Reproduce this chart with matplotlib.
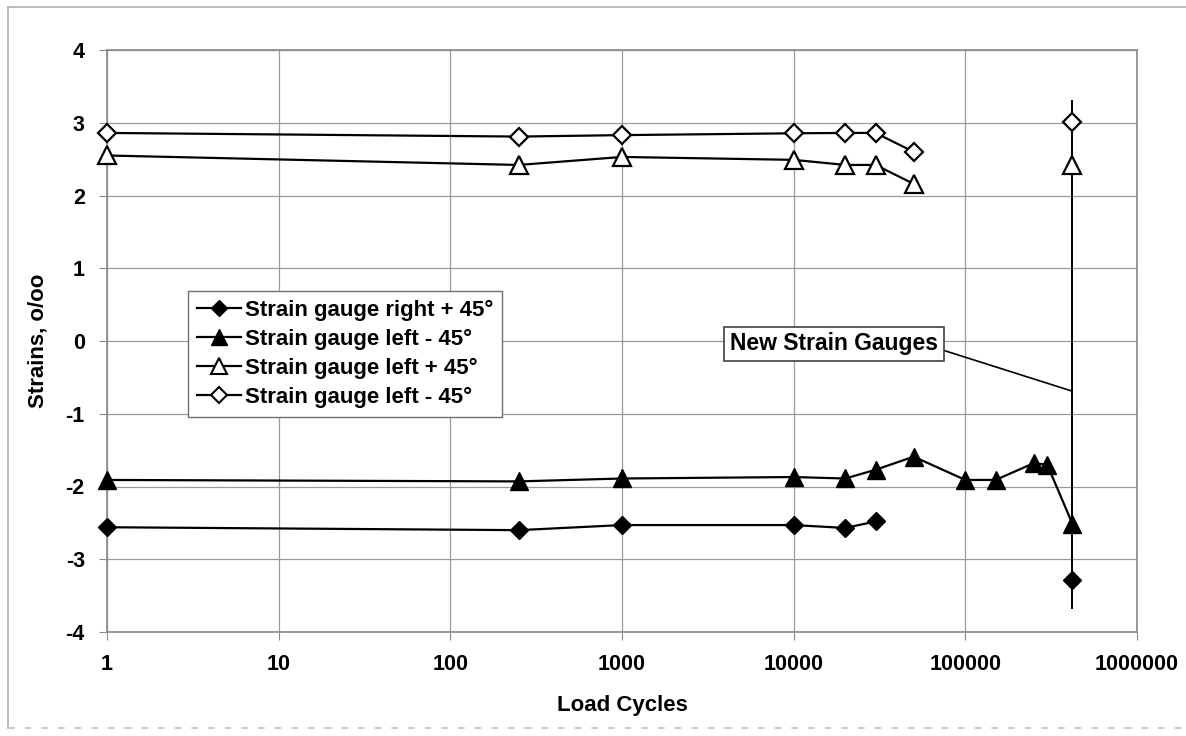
import matplotlib.pyplot as plt
from matplotlib.ticker import FixedLocator, FixedFormatter, NullLocator
from matplotlib.lines import Line2D

plt.rcParams['font.family'] = ['Liberation Sans', 'DejaVu Sans']

# load cycles for each gauge
cycles_right_p45 = [1, 250, 1000, 10000, 20000, 30000]
right_p45 = [-2.56, -2.60, -2.53, -2.53, -2.57, -2.48]

cycles_left_m45 = [1, 250, 1000, 10000, 20000, 30000, 50000,
                   100000, 150000, 250000, 300000, 420000]
left_m45 = [-1.91, -1.93, -1.89, -1.87, -1.89, -1.77, -1.59,
            -1.91, -1.91, -1.68, -1.70, -2.51]

cycles_left_p45_open = [1, 250, 1000, 10000, 20000, 30000, 50000]
left_p45_open = [2.55, 2.42, 2.53, 2.49, 2.42, 2.42, 2.16]

cycles_left_m45_open = [1, 250, 1000, 10000, 20000, 30000, 50000]
left_m45_open = [2.86, 2.81, 2.83, 2.855, 2.86, 2.86, 2.60]

# readings after the new strain gauges were fitted
new_cycles = 420000
new_right_p45 = -3.29
new_left_p45_open = 2.42
new_left_m45_open = 3.01
new_line_lo, new_line_hi = -3.68, 3.31
callout_y = -0.69

xticks = [1, 10, 100, 1000, 10000, 100000, 1000000]
xticklabels = ['1', '10', '100', '1000', '10000', '100000', '1000000']
yticks = [-4, -3, -2, -1, 0, 1, 2, 3, 4]

labels = ['Strain gauge right + 45°', 'Strain gauge left - 45°',
          'Strain gauge left + 45°', 'Strain gauge left - 45°']

fig = plt.figure(figsize=(11.86, 7.36), dpi=100)
ax = fig.add_axes([107/1186, 1 - 632/736, 1030/1186, 582/736])

lw = 1.6
ax.vlines(new_cycles, new_line_lo, new_line_hi, color='black', lw=1.4, zorder=2)

ax.plot(cycles_right_p45, right_p45, color='black', lw=lw, marker='D', ms=9,
        mfc='black', mec='black', zorder=3, clip_on=False)
ax.plot([new_cycles], [new_right_p45], ls='none', marker='D', ms=9,
        mfc='black', mec='black', zorder=3)

ax.plot(cycles_left_m45, left_m45, color='black', lw=lw, marker='^', ms=12.5,
        mfc='black', mec='black', zorder=3, clip_on=False)

ax.plot(cycles_left_p45_open, left_p45_open, color='black', lw=lw, marker='^',
        ms=12.5, mfc='white', mec='black', mew=1.6, zorder=3, clip_on=False)
ax.plot([new_cycles], [new_left_p45_open], ls='none', marker='^', ms=12.5,
        mfc='white', mec='black', mew=1.6, zorder=3)

ax.plot(cycles_left_m45_open, left_m45_open, color='black', lw=lw, marker='D',
        ms=9, mfc='white', mec='black', mew=1.6, zorder=3, clip_on=False)
ax.plot([new_cycles], [new_left_m45_open], ls='none', marker='D', ms=9,
        mfc='white', mec='black', mew=1.6, zorder=3)

ax.set_xscale('log')
ax.set_xlim(1, 1000000)
ax.set_ylim(-4, 4)
ax.xaxis.set_major_locator(FixedLocator(xticks))
ax.xaxis.set_major_formatter(FixedFormatter(xticklabels))
ax.xaxis.set_minor_locator(NullLocator())
ax.set_yticks(yticks)
ax.set_yticklabels([str(v) for v in yticks])

ax.grid(True, color='#9a9a9a', lw=0.9)
ax.set_axisbelow(True)
for s in ax.spines.values():
    s.set_color('#8a8a8a')
    s.set_linewidth(1.2)
ax.tick_params(axis='both', direction='out', length=6, color='#8a8a8a',
               labelsize=15.5, pad=10)
for t in ax.get_xticklabels() + ax.get_yticklabels():
    t.set_fontweight('bold')

ax.set_xlabel('Load Cycles', fontsize=16, fontweight='bold', labelpad=14)
ax.set_ylabel('Strains, o/oo', fontsize=16, fontweight='bold', labelpad=12)

handles = [
    Line2D([], [], color='black', lw=lw, marker='D', ms=8.5, mfc='black', mec='black'),
    Line2D([], [], color='black', lw=lw, marker='^', ms=11, mfc='black', mec='black'),
    Line2D([], [], color='black', lw=lw, marker='^', ms=11, mfc='white', mec='black', mew=1.5),
    Line2D([], [], color='black', lw=lw, marker='D', ms=8.5, mfc='white', mec='black', mew=1.5),
]
leg = ax.legend(handles, labels, loc='upper left',
                bbox_to_anchor=((188 - 107) / 1030, 1 - (291 - 50) / 582),
                borderaxespad=0, frameon=True, fancybox=False, framealpha=1,
                edgecolor='#707070', prop={'size': 16, 'weight': 'bold'},
                handlelength=2.0, handletextpad=0.15, labelspacing=0.36,
                borderpad=0.4)
leg.get_frame().set_linewidth(1.0)

ax.annotate('New Strain Gauges', xy=(new_cycles, callout_y),
            xytext=(17140, -0.04), textcoords='data',
            ha='center', va='center', fontsize=16.5, fontweight='bold',
            bbox=dict(boxstyle='square,pad=0.25', fc='white', ec='#404040', lw=1.2),
            arrowprops=dict(arrowstyle='-', color='black', lw=1.2,
                            relpos=(1.0, 0.3), shrinkA=0, shrinkB=0),
            zorder=4)

# light frame around the whole chart area
fig.add_artist(Line2D([8/1186, 8/1186], [1 - 7/736, 1 - 728/736],
                      transform=fig.transFigure, color='#b0b0b0', lw=1.2))
fig.add_artist(Line2D([8/1186, 1], [1 - 7/736, 1 - 7/736],
                      transform=fig.transFigure, color='#b0b0b0', lw=1.2))
fig.add_artist(Line2D([8/1186, 1], [1 - 728/736, 1 - 728/736],
                      transform=fig.transFigure, color='#c0c0c0', lw=1.2,
                      ls=(0, (4, 6))))

fig.savefig('out.png', dpi=100)
